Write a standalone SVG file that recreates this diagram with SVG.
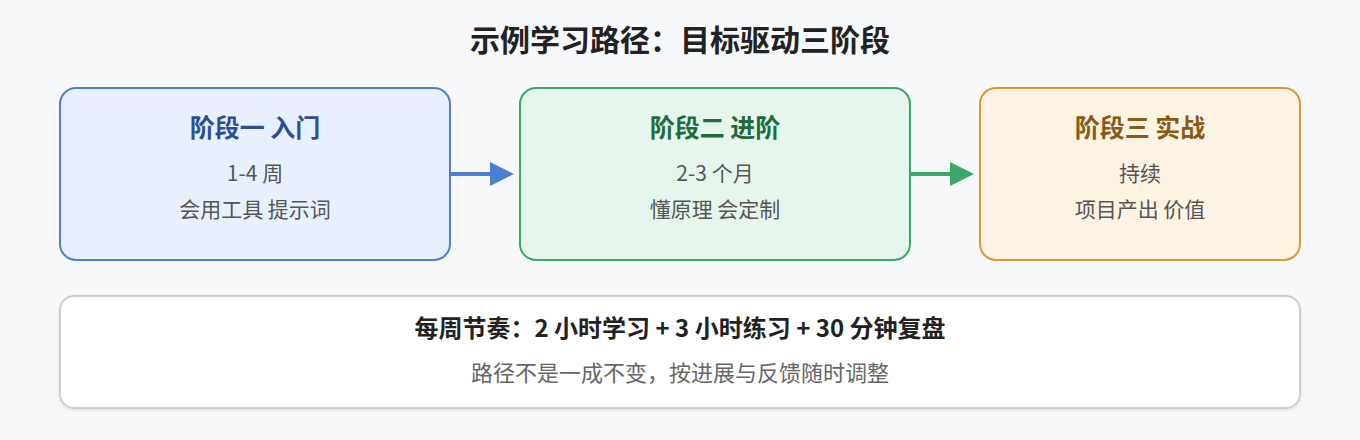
<svg xmlns="http://www.w3.org/2000/svg" width="1360" height="440" viewBox="0 0 1360 440">
<defs>
<style>
text{font-family:"Noto Sans CJK SC","Noto Sans",sans-serif;text-anchor:middle}
.title{font-size:30px;font-weight:bold;fill:#222}
.h{font-size:25px;font-weight:bold}
.t{font-size:21px;fill:#555}
.box{stroke-width:2}
</style>
<filter id="sh" x="-5%" y="-20%" width="110%" height="140%"><feDropShadow dx="0" dy="1" stdDeviation="1.5" flood-color="#000" flood-opacity="0.12"/></filter>
</defs>
<rect width="1360" height="440" fill="#f7f8fa"/>
<text class="title" x="680" y="51">示例学习路径：目标驱动三阶段</text>
<g id="connectors">
<line x1="451" y1="174" x2="492" y2="174" stroke="#4a7fd4" stroke-width="4"/>
<path d="M490,162 L514,174 L490,186 z" fill="#4a7fd4"/>
<line x1="911" y1="174" x2="952" y2="174" stroke="#3aa86a" stroke-width="4"/>
<path d="M950,162 L974,174 L950,186 z" fill="#3aa86a"/>
</g>
<g id="stage1">
<rect class="box" x="60" y="88" width="390" height="172" rx="16" fill="#e8f0fd" stroke="#4a7fd4"/>
<text class="h" x="255" y="137" fill="#2b4f91">阶段一 入门</text>
<text class="t" x="255" y="180.5">1-4 周</text>
<text class="t" x="255" y="216.5">会用工具 提示词</text>
</g>
<g id="stage2">
<rect class="box" x="520" y="88" width="390" height="172" rx="16" fill="#e6f6ec" stroke="#3aa86a"/>
<text class="h" x="715" y="137" fill="#1f6b3d">阶段二 进阶</text>
<text class="t" x="715" y="180.5">2-3 个月</text>
<text class="t" x="715" y="216.5">懂原理 会定制</text>
</g>
<g id="stage3">
<rect class="box" x="980" y="88" width="320" height="172" rx="16" fill="#fdf3e3" stroke="#d99a30"/>
<text class="h" x="1140" y="137" fill="#8a5a12">阶段三 实战</text>
<text class="t" x="1140" y="180.5">持续</text>
<text class="t" x="1140" y="216.5">项目产出 价值</text>
</g>
<g id="rhythm">
<rect x="60" y="296" width="1240" height="112" rx="14" fill="#fff" stroke="#cfcfcf" stroke-width="2" filter="url(#sh)"/>
<text x="680" y="336.5" style="font-size:24px;font-weight:bold;fill:#222">每周节奏：2 小时学习 + 3 小时练习 + 30 分钟复盘</text>
<text class="t" x="680" y="381" style="font-size:22px;fill:#666">路径不是一成不变，按进展与反馈随时调整</text>
</g>
</svg>
